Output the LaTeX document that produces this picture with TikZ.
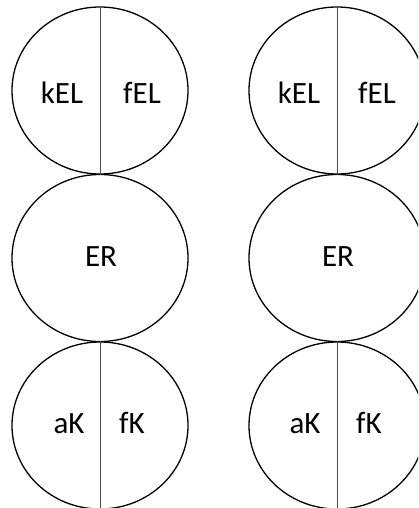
\documentclass[tikz,border=0pt]{standalone}
\usepackage{fontspec}
\setsansfont{Carlito}
\usepackage{tikz}
\usetikzlibrary{positioning,calc}
\usetikzlibrary{shapes.geometric}
\tikzset{
  cell/.style={ellipse,draw=black,line width=1.3pt,inner sep=0pt,
    minimum width=176pt,minimum height=167pt},
  split/.style={draw=black!70,line width=0.8pt},
  lab/.style={font=\sffamily\fontsize{31}{34}\selectfont,inner sep=0pt,anchor=base},
}

\begin{document}
\begin{tikzpicture}[x=1pt,y=1pt]
\useasboundingbox (0,0) rectangle (418,-508);
\clip (0,0) rectangle (418,-508);
\node[cell] (topL) at (100,-90.5) {};
\node[cell] (midL) at (100,-258) {};
\node[cell] (botL) at (100,-425.5) {};
\draw[split] (topL.north)--(topL.south);
\draw[split] (botL.north)--(botL.south);
\node[lab] (kL) at (62,-103.5) {kEL};
\node[lab] (fL) at (142,-103.5) {fEL};
\node[lab] (eL) at (101,-266.5) {ER};
\node[lab] (aL) at (69,-433) {aK};
\node[lab] (gL) at (132,-433) {fK};
\node[cell] (topR) at (337,-90.5) {};
\node[cell] (midR) at (337,-258) {};
\node[cell] (botR) at (337,-425.5) {};
\draw[split] (topR.north)--(topR.south);
\draw[split] (botR.north)--(botR.south);
\node[lab] (kR) at (299,-103.5) {kEL};
\node[lab] (fR) at (377,-103.5) {fEL};
\node[lab] (eR) at (338,-266.5) {ER};
\node[lab] (aR) at (305,-433) {aK};
\node[lab] (gR) at (369,-433) {fK};
\end{tikzpicture}
\end{document}
